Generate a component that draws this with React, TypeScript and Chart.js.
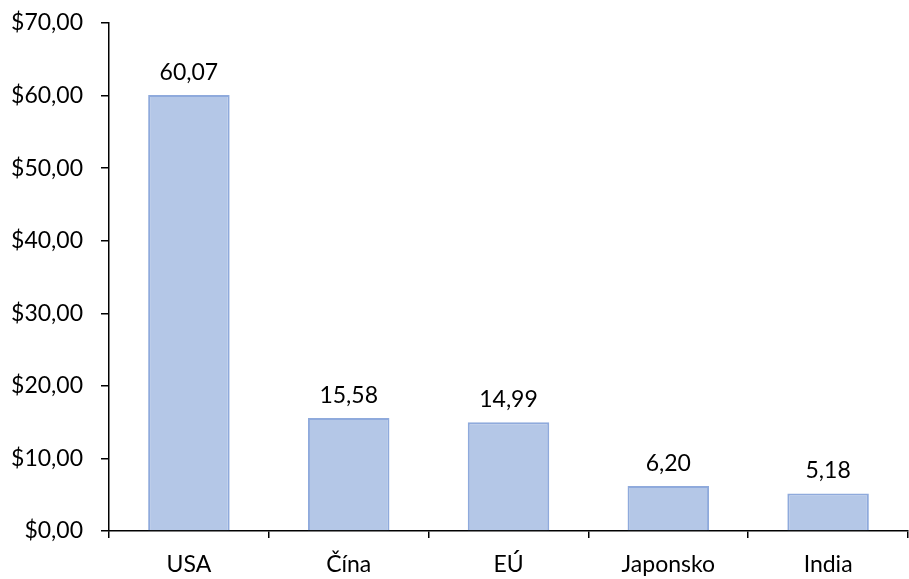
import React, { useEffect, useRef } from "react";
import { Chart, registerables } from "chart.js";

Chart.register(...registerables);

const categories = ["USA", "Čína", "EÚ", "Japonsko", "India"];
const values = [60.07, 15.58, 14.99, 6.2, 5.18];
const yTicks = [0, 10, 20, 30, 40, 50, 60, 70];

const FONT = "Lato, 'Open Sans', sans-serif";
const fmt = (v: number) => v.toFixed(2).replace(".", ",");

const valueLabels = {
  id: "valueLabels",
  afterDatasetsDraw(chart: any) {
    const { ctx } = chart;
    const meta = chart.getDatasetMeta(0);
    ctx.save();
    ctx.fillStyle = "#000";
    ctx.font = `23px ${FONT}`;
    ctx.textAlign = "center";
    ctx.textBaseline = "bottom";
    meta.data.forEach((bar: any, i: number) => {
      ctx.fillText(fmt(values[i]), bar.x, bar.y - 11);
    });
    ctx.restore();
  },
};

export default function App() {
  const ref = useRef<HTMLCanvasElement>(null);
  useEffect(() => {
    document.body.style.margin = "0";
    const chart = new Chart(ref.current!, {
      type: "bar",
      data: {
        labels: categories,
        datasets: [
          {
            data: values,
            backgroundColor: "#B4C7E7",
            borderColor: "#8FAADC",
            borderWidth: 2,
            categoryPercentage: 1,
            barPercentage: 0.51,
          },
        ],
      },
      options: {
        animation: false,
        responsive: false,
        layout: { padding: { top: 23, right: 1, left: 0, bottom: 0 } },
        plugins: { legend: { display: false }, tooltip: { enabled: false } },
        scales: {
          x: {
            border: { display: true, color: "#000", width: 1.5 },
            grid: {
              offset: true,
              drawOnChartArea: false,
              drawTicks: true,
              tickLength: 7,
              color: "#000",
              lineWidth: 1.5,
            },
            ticks: {
              color: "#000",
              font: { family: FONT, size: 23 },
              padding: 13,
              maxRotation: 0,
            },
            afterFit: (s: any) => {
              s.height = 48;
              s.paddingLeft = 0;
              s.paddingRight = 0;
            },
          },
          y: {
            min: 0,
            max: 70,
            afterBuildTicks: (s: any) => {
              s.ticks = yTicks.map((v) => ({ value: v }));
            },
            border: { display: true, color: "#000", width: 1.5 },
            grid: {
              drawOnChartArea: false,
              drawTicks: true,
              tickLength: 8,
              color: "#000",
              lineWidth: 1.5,
            },
            ticks: {
              color: "#000",
              font: { family: FONT, size: 23 },
              padding: 18,
              callback: (v: any) => "$" + fmt(Number(v)),
            },
            afterFit: (s: any) => {
              s.width = 109;
              s.paddingTop = 0;
              s.paddingBottom = 0;
            },
          },
        },
      },
      plugins: [valueLabels],
    });
    return () => chart.destroy();
  }, []);
  return (
    <div style={{ width: 909, height: 579, background: "#fff" }}>
      <canvas ref={ref} width={909} height={579} />
    </div>
  );
}
